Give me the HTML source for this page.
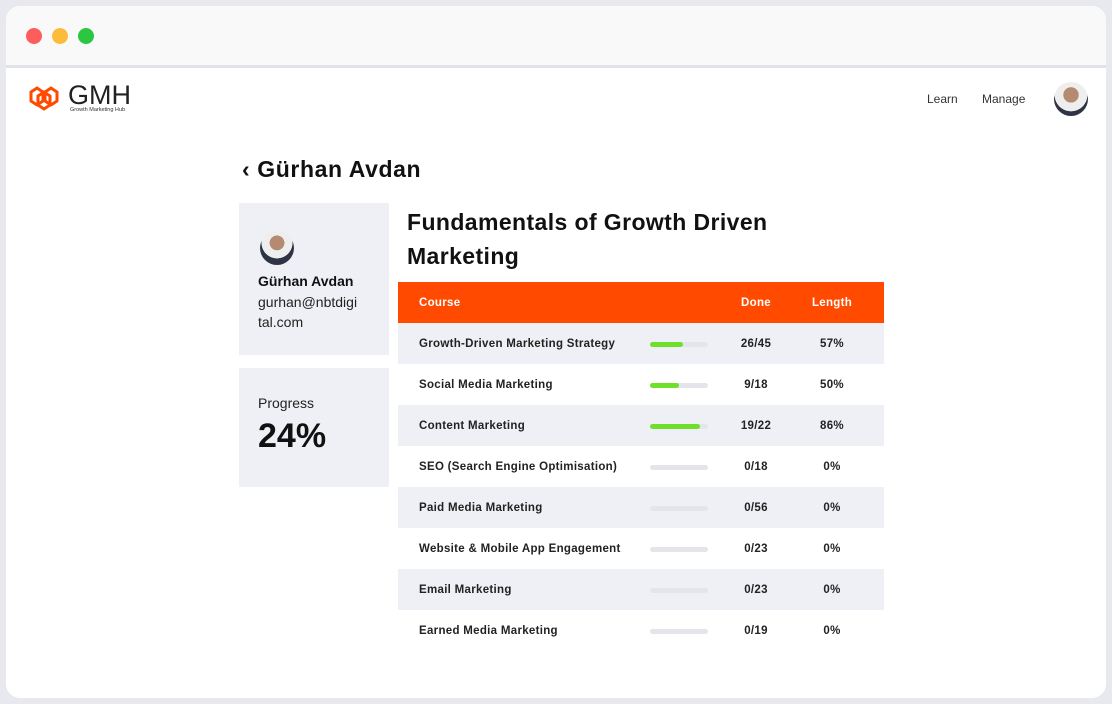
<!DOCTYPE html>
<html><head><style>
*{margin:0;padding:0;box-sizing:border-box}
body{width:1112px;height:704px;background:#e8e9ef;font-family:"Liberation Sans",sans-serif;position:relative;overflow:hidden;color:#111}
.win{position:absolute;left:6px;top:6px;width:1100px;height:692px;background:#fff;border-radius:14px;overflow:hidden}
.bar{position:absolute;left:0;top:0;width:1100px;height:62px;background:#f9f9fa;border-bottom:3px solid #e2e3e8}
.dot{position:absolute;top:22px;width:16px;height:16px;border-radius:50%}
.a{position:absolute}
.card{position:absolute;left:233px;width:150px;background:#eff0f5}
.row{position:absolute;left:392px;width:486px;height:41px;font-size:11.5px;font-weight:bold;color:#222;letter-spacing:0.3px}
.row span{position:absolute;top:15px}
.pb{position:absolute;left:252px;top:19px;width:58px;height:5px;border-radius:3px;background:#e4e5ea}
.pb i{display:block;height:5px;border-radius:3px;background:#6fe02a}
.d{left:330px;width:56px;text-align:center}
.l{left:406px;width:56px;text-align:center}
</style></head><body>
<div class="win">
<div class="bar"></div>
<div class="dot" style="left:20px;background:#fe5e5b"></div>
<div class="dot" style="left:46px;background:#fdbb3a"></div>
<div class="dot" style="left:72px;background:#2bc742"></div>
<svg class="a" style="left:19px;top:78px" width="40" height="30" viewBox="0 0 40 30"><g fill="none" stroke="#ff4a00" stroke-width="3"><polygon points="6,8 12,4 18,8 18,17 12,21 6,17"/><polygon points="20,8 26,4 32,8 32,17 26,21 20,17"/><polygon points="13,12 19,8 25,12 25,21 19,25 13,21"/></g></svg>
<div class="a" style="left:62px;top:74px;font-size:27px;color:#222">GMH</div>
<div class="a" style="left:64px;top:101px;font-size:5.5px;color:#333">Growth Marketing Hub</div>
<div class="a" style="left:921px;top:86px;font-size:12px;color:#333">Learn</div>
<div class="a" style="left:976px;top:86px;font-size:12px;color:#333">Manage</div>
<div class="a" style="left:1048px;top:76px;width:34px;height:34px;border-radius:50%;background:radial-gradient(circle at 50% 38%,#b48a70 0 28%,#eee 29% 60%,#2e3445 61%)"></div>
<div class="a" style="left:236px;top:150px;font-size:23px;font-weight:bold;letter-spacing:0.6px">‹ Gürhan Avdan</div>
<div class="card" style="top:197px;height:152px"></div>
<div class="a" style="left:254px;top:225px;width:34px;height:34px;border-radius:50%;background:radial-gradient(circle at 50% 35%,#b48a70 0 26%,#eee 27% 55%,#2e3445 56%)"></div>
<div class="a" style="left:252px;top:267px;font-size:14px;font-weight:bold">Gürhan Avdan</div>
<div class="a" style="left:252px;top:286px;font-size:14px;line-height:20px;color:#222">gurhan@nbtdigi<br>tal.com</div>
<div class="card" style="top:362px;height:119px"></div>
<div class="a" style="left:252px;top:389px;font-size:14px;color:#222">Progress</div>
<div class="a" style="left:252px;top:411px;font-size:34px;font-weight:bold">24%</div>
<div class="a" style="left:401px;top:199px;font-size:23px;font-weight:bold;line-height:34px;letter-spacing:0.4px">Fundamentals of Growth Driven<br>Marketing</div>
<div class="a" style="left:392px;top:276px;width:486px;height:41px;background:#ff4a00;color:#fff;font-size:11.5px;font-weight:bold;letter-spacing:0.3px">
<span class="a" style="left:21px;top:15px">Course</span><span class="a d" style="top:15px">Done</span><span class="a l" style="top:15px">Length</span></div>
<div class="row" style="top:317px;background:#eff0f5"><span style="left:21px">Growth-Driven Marketing Strategy</span><div class="pb"><i style="width:33px"></i></div><span class="d">26/45</span><span class="l">57%</span></div>
<div class="row" style="top:358px"><span style="left:21px">Social Media Marketing</span><div class="pb"><i style="width:29px"></i></div><span class="d">9/18</span><span class="l">50%</span></div>
<div class="row" style="top:399px;background:#eff0f5"><span style="left:21px">Content Marketing</span><div class="pb"><i style="width:50px"></i></div><span class="d">19/22</span><span class="l">86%</span></div>
<div class="row" style="top:440px"><span style="left:21px">SEO (Search Engine Optimisation)</span><div class="pb"></div><span class="d">0/18</span><span class="l">0%</span></div>
<div class="row" style="top:481px;background:#eff0f5"><span style="left:21px">Paid Media Marketing</span><div class="pb"></div><span class="d">0/56</span><span class="l">0%</span></div>
<div class="row" style="top:522px"><span style="left:21px">Website &amp; Mobile App Engagement</span><div class="pb"></div><span class="d">0/23</span><span class="l">0%</span></div>
<div class="row" style="top:563px;background:#eff0f5"><span style="left:21px">Email Marketing</span><div class="pb"></div><span class="d">0/23</span><span class="l">0%</span></div>
<div class="row" style="top:604px"><span style="left:21px">Earned Media Marketing</span><div class="pb"></div><span class="d">0/19</span><span class="l">0%</span></div>
</div>
</body></html>
